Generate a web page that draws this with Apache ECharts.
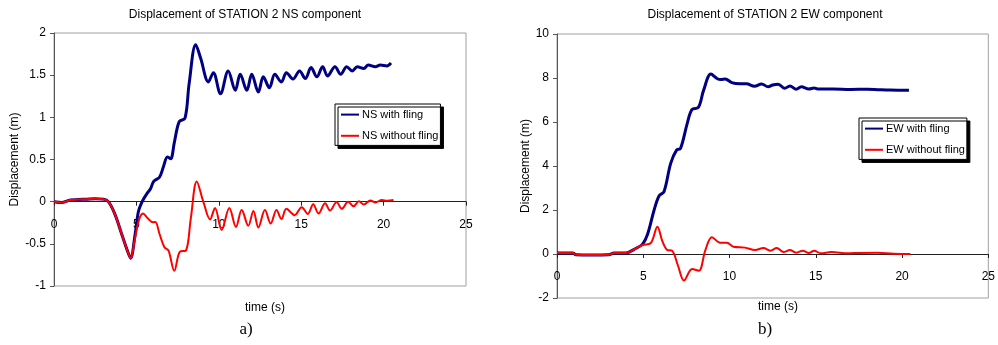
<!DOCTYPE html>
<html>
<head>
<meta charset="utf-8">
<script src="https://cdn.jsdelivr.net/npm/echarts@6/dist/echarts.min.js"></script>
<style>
  html, body { margin: 0; padding: 0; background: #fff; }
  #main { width: 998px; height: 345px; }
</style>
</head>
<body>
<div id="main"></div>
<script>
// values (time in s, displacement in m)
var nsWithT = [0, 0.5, 1.0, 1.5, 2.0, 2.5, 3.0, 3.3, 3.7, 4.1, 4.45, 4.65, 4.9, 5.12, 5.35, 5.62, 5.85, 6.05, 6.4, 6.65, 6.88, 7.08, 7.3, 7.6, 7.95, 8.2, 8.6, 8.9, 9.37, 9.67, 10.1, 10.57, 11.0, 11.3, 11.7, 12.0, 12.4, 12.7, 13.07, 13.4, 13.8, 14.1, 14.5, 14.9, 15.25, 15.6, 15.95, 16.3, 16.6, 17.05, 17.4, 17.76, 18.1, 18.4, 18.8, 19.07, 19.5, 19.8, 20.2, 20.45];
var nsWithV = [0, -0.01, 0.02, 0.025, 0.03, 0.035, 0.03, 0.0, -0.15, -0.38, -0.58, -0.67, -0.42, -0.12, 0.0, 0.09, 0.15, 0.24, 0.29, 0.42, 0.53, 0.51, 0.7, 0.95, 0.99, 1.4, 1.86, 1.7, 1.42, 1.53, 1.28, 1.55, 1.32, 1.51, 1.32, 1.51, 1.30, 1.48, 1.35, 1.51, 1.42, 1.53, 1.455, 1.55, 1.46, 1.59, 1.48, 1.60, 1.49, 1.60, 1.51, 1.60, 1.55, 1.60, 1.58, 1.62, 1.60, 1.62, 1.61, 1.645];

var nsWithoutT = [0, 0.5, 1.0, 1.5, 2.0, 2.5, 3.0, 3.3, 3.7, 4.1, 4.45, 4.65, 4.9, 5.15, 5.4, 5.7, 6.0, 6.15, 6.4, 6.7, 6.95, 7.3, 7.65, 8.0, 8.3, 8.66, 9.06, 9.47, 9.77, 10.17, 10.64, 11.04, 11.39, 11.79, 12.1, 12.4, 12.8, 13.15, 13.5, 13.8, 14.1, 14.6, 15.03, 15.4, 15.73, 16.05, 16.45, 16.75, 17.15, 17.46, 17.85, 18.17, 18.5, 18.8, 19.2, 19.5, 19.9, 20.2, 20.6];
var nsWithoutV = [0, -0.01, 0.02, 0.025, 0.03, 0.035, 0.03, 0.0, -0.15, -0.38, -0.58, -0.67, -0.45, -0.22, -0.14, -0.2, -0.245, -0.24, -0.38, -0.54, -0.58, -0.82, -0.59, -0.58, -0.2, 0.24, 0.0, -0.21, -0.075, -0.335, -0.075, -0.30, -0.10, -0.285, -0.11, -0.305, -0.10, -0.26, -0.10, -0.205, -0.085, -0.16, -0.065, -0.145, -0.03, -0.14, -0.02, -0.105, -0.005, -0.085, 0.0, -0.055, 0.005, -0.035, 0.015, -0.01, 0.02, 0.01, 0.02];

var ewWithT = [0, 0.9, 1.1, 2.0, 3.0, 3.3, 4.0, 4.58, 4.96, 5.25, 5.63, 5.92, 6.2, 6.59, 6.93, 7.16, 7.55, 7.83, 8.2, 8.5, 8.92, 9.27, 9.5, 9.75, 10.13, 10.6, 10.98, 11.45, 11.86, 12.24, 12.5, 12.82, 13.2, 13.5, 13.87, 14.16, 14.6, 14.9, 15.1, 16.0, 17.0, 18.0, 18.6, 19.3, 20.4];
var ewWithV = [0.05, 0.05, -0.03, -0.04, -0.03, 0.04, 0.05, 0.26, 0.45, 0.9, 2.0, 2.65, 2.83, 4.12, 4.72, 4.8, 5.94, 6.57, 6.67, 7.45, 8.18, 7.98, 7.93, 7.96, 7.79, 7.74, 7.74, 7.62, 7.73, 7.6, 7.68, 7.72, 7.53, 7.64, 7.49, 7.6, 7.5, 7.55, 7.5, 7.5, 7.48, 7.49, 7.47, 7.45, 7.44];

var ewWithoutT = [0, 0.9, 1.1, 2.0, 3.0, 3.3, 4.0, 4.58, 4.96, 5.44, 5.82, 6.1, 6.4, 6.67, 7.0, 7.36, 7.83, 8.22, 8.6, 8.98, 9.46, 9.85, 10.23, 10.9, 11.48, 11.97, 12.36, 12.74, 13.13, 13.5, 13.86, 14.25, 14.6, 14.9, 15.3, 15.9, 16.86, 17.5, 18.6, 19.5, 20.48];
var ewWithoutV = [0.05, 0.05, -0.03, -0.04, -0.03, 0.04, 0.05, 0.26, 0.41, 0.5, 1.24, 0.6, 0.18, 0.15, -0.5, -1.21, -0.68, -0.76, 0.18, 0.76, 0.51, 0.51, 0.33, 0.29, 0.18, 0.27, 0.15, 0.27, 0.09, 0.18, 0.06, 0.15, 0.05, 0.15, 0.03, 0.09, 0.03, 0.05, 0.06, 0.01, 0.0];

var xTicks = { min: 0, max: 25, interval: 5 };
var nsTicks = { min: -1, max: 2, interval: 0.5 };
var ewTicks = { min: -2, max: 10, interval: 2 };

function pairs(t, v) {
  return t.map(function (x, i) { return [x, v[i]]; });
}

var font = "'Liberation Sans', Arial, sans-serif";
var chart = echarts.init(document.getElementById('main'));

// grid boxes, the time axis sits on the zero line so it is pulled up by offset
var nsGrid = { left: 54, top: 33, width: 412, height: 253 };
var ewGrid = { left: 557, top: 34, width: 435, height: 264 };

function zeroOffset(g, ticks) {
  return -g.height * (0 - ticks.min) / (ticks.max - ticks.min);
}

function xAxisFor(grid, off) {
  return {
    type: 'value', gridIndex: grid, position: 'bottom', offset: off,
    min: xTicks.min, max: xTicks.max, interval: xTicks.interval,
    axisLine: { onZero: false, lineStyle: { color: '#222', width: 1 } },
    axisTick: { show: true, length: 4, lineStyle: { color: '#222' } },
    axisLabel: { color: '#000', fontSize: 12, fontFamily: font, margin: 17 },
    splitLine: { show: false }
  };
}

function yAxisFor(grid, ticks, gap) {
  return {
    type: 'value', gridIndex: grid,
    min: ticks.min, max: ticks.max, interval: ticks.interval,
    name: 'Displacement (m)', nameLocation: 'middle', nameGap: gap,
    nameTextStyle: { color: '#000', fontSize: 12, fontFamily: font },
    axisLine: { show: true, onZero: false, lineStyle: { color: '#555', width: 1 } },
    axisTick: { show: true, length: 4, lineStyle: { color: '#555' } },
    axisLabel: { color: '#000', fontSize: 12, fontFamily: font, margin: 8 },
    splitLine: { show: false }
  };
}

function legendFor(names, left, top) {
  return {
    data: names, orient: 'vertical', left: left, top: top,
    backgroundColor: '#fff', borderColor: '#000', borderWidth: 1,
    shadowColor: '#000', shadowBlur: 0, shadowOffsetX: 3, shadowOffsetY: 3,
    padding: [5, 2, 4, 5], itemWidth: 18, itemHeight: 14, itemGap: 10,
    itemStyle: { opacity: 0 },
    textStyle: { color: '#000', fontSize: 11, fontFamily: font, padding: [0, 0, 0, -2] }
  };
}

var option = {
  animation: false,
  backgroundColor: '#fff',
  title: [
    { text: 'Displacement of STATION 2 NS component', left: 240, top: 4, textAlign: 'center',
      textStyle: { fontSize: 12, fontWeight: 'normal', color: '#000', fontFamily: font } },
    { text: 'Displacement of STATION 2 EW component', left: 760, top: 4, textAlign: 'center',
      textStyle: { fontSize: 12, fontWeight: 'normal', color: '#000', fontFamily: font } },
    { text: 'time (s)', left: 260, top: 297, textAlign: 'center',
      textStyle: { fontSize: 12, fontWeight: 'normal', color: '#000', fontFamily: font } },
    { text: 'time (s)', left: 773, top: 296, textAlign: 'center',
      textStyle: { fontSize: 12, fontWeight: 'normal', color: '#000', fontFamily: font } },
    { text: 'a)', left: 241, top: 316, textAlign: 'center',
      textStyle: { fontSize: 17, fontWeight: 'normal', color: '#000', fontFamily: "'Liberation Serif', 'Times New Roman', serif" } },
    { text: 'b)', left: 760, top: 316, textAlign: 'center',
      textStyle: { fontSize: 17, fontWeight: 'normal', color: '#000', fontFamily: "'Liberation Serif', 'Times New Roman', serif" } }
  ],
  legend: [
    legendFor(['NS with fling', 'NS without fling'], 335, 104),
    legendFor(['EW with fling', 'EW without fling'], 859, 118)
  ],
  grid: [
    { left: nsGrid.left, top: nsGrid.top, width: nsGrid.width, height: nsGrid.height, show: true, borderColor: '#a0a0a0', borderWidth: 1 },
    { left: ewGrid.left, top: ewGrid.top, width: ewGrid.width, height: ewGrid.height, show: true, borderColor: '#a0a0a0', borderWidth: 1 }
  ],
  xAxis: [xAxisFor(0, zeroOffset(nsGrid, nsTicks)), xAxisFor(1, zeroOffset(ewGrid, ewTicks))],
  yAxis: [yAxisFor(0, nsTicks, 33), yAxisFor(1, ewTicks, 24)],
  series: [
    { name: 'NS with fling', type: 'line', xAxisIndex: 0, yAxisIndex: 0, data: pairs(nsWithT, nsWithV),
      smooth: 0.35, symbol: 'none', lineStyle: { color: '#000080', width: 3 }, itemStyle: { color: '#000080' } },
    { name: 'NS without fling', type: 'line', xAxisIndex: 0, yAxisIndex: 0, data: pairs(nsWithoutT, nsWithoutV),
      smooth: 0.35, symbol: 'none', lineStyle: { color: '#ff0000', width: 2 }, itemStyle: { color: '#ff0000' } },
    { name: 'EW with fling', type: 'line', xAxisIndex: 1, yAxisIndex: 1, data: pairs(ewWithT, ewWithV),
      smooth: 0.35, symbol: 'none', lineStyle: { color: '#000080', width: 3 }, itemStyle: { color: '#000080' } },
    { name: 'EW without fling', type: 'line', xAxisIndex: 1, yAxisIndex: 1, data: pairs(ewWithoutT, ewWithoutV),
      smooth: 0.35, symbol: 'none', lineStyle: { color: '#ff0000', width: 2 }, itemStyle: { color: '#ff0000' } }
  ]
};

chart.setOption(option);
</script>
</body>
</html>
